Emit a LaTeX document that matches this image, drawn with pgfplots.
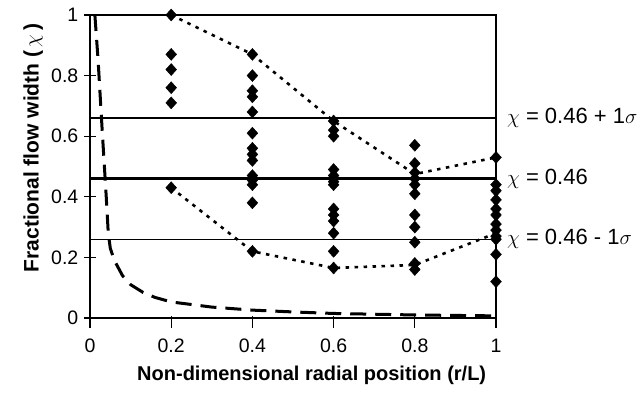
\documentclass[border=0pt]{standalone}
\usepackage{fontspec}
\setmainfont{Liberation Sans}
\usepackage{pgfplots}
\pgfplotsset{compat=1.18}
\usetikzlibrary{calc}
\begin{document}
\fontsize{18}{21}\selectfont
\begin{tikzpicture}
\begin{axis}[
  scale only axis, width=406pt, height=303pt,
  xmin=0, xmax=1, ymin=0, ymax=1,
  xtick={0,0.2,0.4,0.6,0.8,1}, ytick={0,0.2,0.4,0.6,0.8,1},
  tick pos=left, tick align=center, major tick length=11pt,
  x tick style={yshift=-4pt},
  every tick/.style={black, line width=1.3pt},
  axis line style={line width=1.8pt},
  /pgf/number format/assume math mode=true,
  tick label style={font=\fontsize{19.5}{21}\selectfont},
  xticklabel style={yshift=-9pt},
  xlabel={\bfseries Non-dimensional radial position (r/L)},
  ylabel={\bfseries Fractional flow width (\,$\chi$\,)},
  xlabel style={font=\fontsize{20}{22}\selectfont, at={(axis description cs:0.546,-0.188)}, anchor=center},
  ylabel style={font=\fontsize{21}{23}\selectfont, at={(axis description cs:-0.14,0.561)}, anchor=center},
  clip=false,
]
% sigma band lines
\addplot[black, line width=1.1pt, no marks] coordinates {(0,0.66) (1,0.66)};
\addplot[black, line width=1.1pt, no marks] coordinates {(0,0.26) (1,0.26)};
\addplot[black, line width=2.4pt, no marks] coordinates {(0,0.46) (1,0.46)};
% envelope dotted lines
\addplot[black, line width=2.6pt, dash pattern=on 3.5pt off 5.5pt, no marks] coordinates {(0.2,1.0) (0.4,0.87) (0.6,0.65) (0.8,0.475) (1.0,0.53)};
\addplot[black, line width=2.6pt, dash pattern=on 3.5pt off 5.5pt, no marks] coordinates {(0.2,0.43) (0.4,0.22) (0.6,0.165) (0.8,0.175) (1.0,0.28)};
% dashed curve
\addplot[black, line width=3pt, dash pattern=on 16pt off 9pt, no marks] coordinates {
 (0.012,1.0) (0.02,0.85) (0.03,0.62) (0.04,0.40) (0.045,0.28) (0.05,0.23) (0.06,0.19)
 (0.08,0.14) (0.1,0.11) (0.13,0.085) (0.16,0.068) (0.2,0.053) (0.3,0.036) (0.4,0.026) (0.5,0.02)
 (0.6,0.015) (0.8,0.01) (1.0,0.007)};
% data
\addplot[only marks, mark=diamond*, mark size=6pt, mark options={black, xscale=1.2}] coordinates {
 (0.2,1.0) (0.2,0.87) (0.2,0.82) (0.2,0.76) (0.2,0.71) (0.2,0.43)
 (0.4,0.87) (0.4,0.80) (0.4,0.75) (0.4,0.73) (0.4,0.68) (0.4,0.61) (0.4,0.56) (0.4,0.54) (0.4,0.52) (0.4,0.47) (0.4,0.455) (0.4,0.44) (0.4,0.38) (0.4,0.22)
 (0.6,0.65) (0.6,0.62) (0.6,0.60) (0.6,0.49) (0.6,0.47) (0.6,0.45) (0.6,0.44) (0.6,0.36) (0.6,0.34) (0.6,0.32) (0.6,0.28) (0.6,0.22) (0.6,0.165)
 (0.8,0.57) (0.8,0.51) (0.8,0.48) (0.8,0.46) (0.8,0.44) (0.8,0.41) (0.8,0.34) (0.8,0.30) (0.8,0.25) (0.8,0.18) (0.8,0.16)
 (1.0,0.53) (1.0,0.44) (1.0,0.42) (1.0,0.39) (1.0,0.36) (1.0,0.34) (1.0,0.31) (1.0,0.29) (1.0,0.27) (1.0,0.26) (1.0,0.21) (1.0,0.12)};
\node[anchor=west, inner sep=0pt, font=\fontsize{22}{24}\selectfont] at (axis cs:1.027,0.66) {$\chi$ = 0.46 + 1$\sigma$};
\node[anchor=west, inner sep=0pt, font=\fontsize{22}{24}\selectfont] at (axis cs:1.027,0.46) {$\chi$ = 0.46};
\node[anchor=west, inner sep=0pt, font=\fontsize{22}{24}\selectfont] at (axis cs:1.027,0.26) {$\chi$ = 0.46 - 1$\sigma$};
\end{axis}
\pgfresetboundingbox
\path ($(current axis.south west)+(-90pt,-75pt)$) rectangle ($(current axis.north east)+(146pt,15pt)$);
\end{tikzpicture}
\end{document}
